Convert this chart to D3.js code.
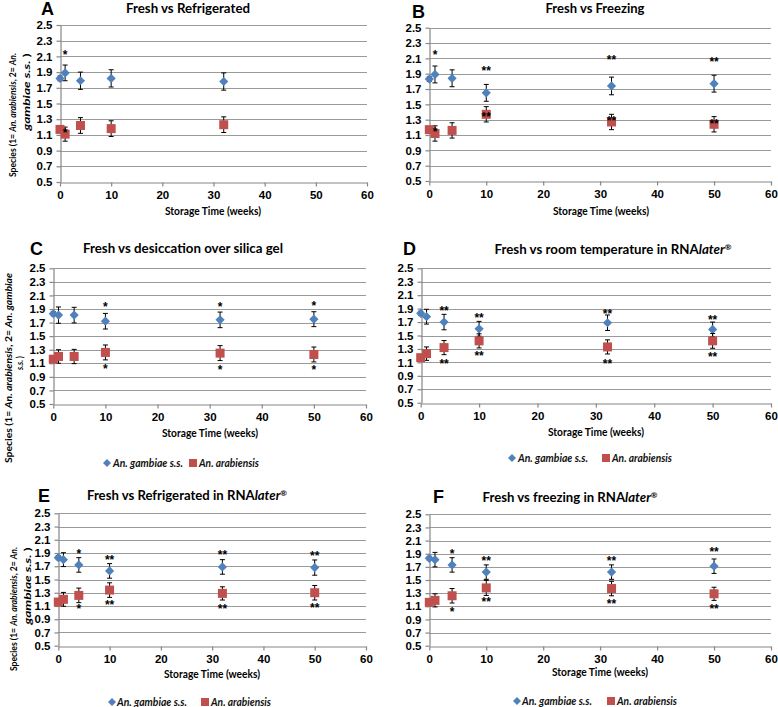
<!DOCTYPE html>
<html><head><meta charset="utf-8">
<script src="https://cdn.jsdelivr.net/npm/d3@7"></script>
<style>body{margin:0;background:#fff;} svg{display:block;}</style>
</head><body><svg id="c" width="778" height="707"></svg>
<script>
// ---------- DATA ----------
const weeksA = [0, 1, 4, 10, 32];
const weeks = [0, 1, 4, 10, 32, 50];
const xTicks = [0, 10, 20, 30, 40, 50, 60];
const yTicks = [0.5, 0.7, 0.9, 1.1, 1.3, 1.5, 1.7, 1.9, 2.1, 2.3, 2.5];
const seriesNames = ["An. gambiae s.s.", "An. arabiensis"];

const gambiaeA = [1.82, 1.89, 1.79, 1.82, 1.78];
const gambiaeErrA = [0.03, 0.10, 0.11, 0.11, 0.11];
const arabiensisA = [1.17, 1.11, 1.22, 1.18, 1.23];
const arabiensisErrA = [0.03, 0.09, 0.10, 0.10, 0.10];
const starsA = [[1, 2.15, "*"], [1, 1.16, "*"]];

const gambiaeB = [1.83, 1.89, 1.84, 1.65, 1.74, 1.77];
const gambiaeErrB = [0.03, 0.11, 0.11, 0.11, 0.115, 0.11];
const arabiensisB = [1.17, 1.12, 1.16, 1.37, 1.27, 1.24];
const arabiensisErrB = [0.03, 0.10, 0.10, 0.10, 0.10, 0.10];
const starsB = [[1, 2.17, "*"], [1, 1.17, "*"], [10, 1.97, "**"], [10, 1.37, "**"],
                [32, 2.11, "**"], [32, 1.31, "**"], [50, 2.08, "**"], [50, 1.27, "**"]];

const gambiaeC = [1.83, 1.81, 1.81, 1.72, 1.74, 1.75];
const gambiaeErrC = [0.03, 0.12, 0.115, 0.115, 0.115, 0.11];
const arabiensisC = [1.16, 1.20, 1.20, 1.26, 1.25, 1.23];
const arabiensisErrC = [0.03, 0.10, 0.105, 0.11, 0.11, 0.11];
const starsC = [[10, 1.97, "*"], [10, 1.055, "*"], [32, 1.97, "*"], [32, 1.04, "*"],
                [50, 1.98, "*"], [50, 1.04, "*"]];

const gambiaeD = [1.83, 1.78, 1.70, 1.60, 1.69, 1.59];
const gambiaeErrD = [0.03, 0.11, 0.115, 0.11, 0.115, 0.11];
const arabiensisD = [1.17, 1.23, 1.32, 1.42, 1.33, 1.42];
const arabiensisErrD = [0.03, 0.10, 0.105, 0.105, 0.105, 0.11];
const starsD = [[4, 1.90, "**"], [4, 1.12, "**"], [10, 1.80, "**"], [10, 1.23, "**"],
                [32, 1.85, "**"], [32, 1.12, "**"], [50, 1.77, "**"], [50, 1.21, "**"]];

const gambiaeE = [1.83, 1.80, 1.72, 1.63, 1.69, 1.68];
const gambiaeErrE = [0.03, 0.105, 0.11, 0.11, 0.11, 0.115];
const arabiensisE = [1.16, 1.20, 1.26, 1.34, 1.29, 1.30];
const arabiensisErrE = [0.03, 0.105, 0.11, 0.11, 0.10, 0.11];
const starsE = [[4, 1.92, "*"], [4, 1.09, "*"], [10, 1.83, "**"], [10, 1.15, "**"],
                [32, 1.91, "**"], [32, 1.09, "**"], [50, 1.90, "**"], [50, 1.10, "**"]];

const gambiaeF = [1.83, 1.81, 1.73, 1.62, 1.62, 1.71];
const gambiaeErrF = [0.03, 0.11, 0.11, 0.11, 0.11, 0.11];
const arabiensisF = [1.16, 1.19, 1.26, 1.38, 1.37, 1.29];
const arabiensisErrF = [0.03, 0.10, 0.11, 0.115, 0.11, 0.10];
const starsF = [[4, 1.94, "*"], [4, 1.05, "*"], [10, 1.83, "**"], [10, 1.20, "**"],
                [32, 1.83, "**"], [32, 1.17, "**"], [50, 1.96, "**"], [50, 1.09, "**"]];

const titles = {
  A: [["Fresh vs Refrigerated", ""]],
  B: [["Fresh vs Freezing", ""]],
  C: [["Fresh vs desiccation over silica gel", ""]],
  D: [["Fresh vs room temperature in RNA", ""], ["later", "i"], ["®", "sup"]],
  E: [["Fresh vs Refrigerated in RNA", ""], ["later", "i"], ["®", "sup"]],
  F: [["Fresh vs freezing in RNA", ""], ["later", "i"], ["®", "sup"]]
};
const xTitle = "Storage Time (weeks)";

// ---------- STYLE ----------
const BLUE = "#4F81BD", RED = "#C0504D", GRID = "#9a9a9a", AXIS = "#868686";
const TICKFONT = "'Liberation Sans', Arial, sans-serif";
const TFONT = "Lato, 'Open Sans', sans-serif";

const svg = d3.select("#c");
svg.append("rect").attr("width", 778).attr("height", 707).attr("fill", "#fff");

const panels = [
  {id: "A", wk: weeksA, g: gambiaeA, ge: gambiaeErrA, a: arabiensisA, ae: arabiensisErrA, st: starsA,
   x0: 60, x1: 367, yT: 25, yB: 182, lx: 41, ly: 15, tx: 188, ty: 12.5, tw: 124, xtx: 213, xty: 215,
   yt: [[12, 115, 124, "Species (1= ", "An. arabiensis", ", 2= ", "An."], [26, 92, 77, "", "gambiae s.s.", " )", ""]], leg: null},
  {id: "B", wk: weeks, g: gambiaeB, ge: gambiaeErrB, a: arabiensisB, ae: arabiensisErrB, st: starsB,
   x0: 429.3, x1: 771, yT: 27.7, yB: 181, lx: 412, ly: 18, tx: 595, ty: 13, tw: 99, xtx: 601, xty: 215,
   yt: null, leg: null},
  {id: "C", wk: weeks, g: gambiaeC, ge: gambiaeErrC, a: arabiensisC, ae: arabiensisErrC, st: starsC,
   x0: 53.3, x1: 366, yT: 268.3, yB: 404, lx: 30, ly: 255, tx: 183, ty: 253, tw: 200, xtx: 210, xty: 437,
   yt: [[8, 368, 190, "Species (1= ", "An. arabiensis", ", 2= ", "An. gambiae"], [19, 363, 14, "", "s.s.", " )", ""]],
   leg: {y: 463, dx: 107, tx1: 113, sx: 193, tx2: 199}},
  {id: "D", wk: weeks, g: gambiaeD, ge: gambiaeErrD, a: arabiensisD, ae: arabiensisErrD, st: starsD,
   x0: 420.7, x1: 771, yT: 268.3, yB: 402.7, lx: 403, ly: 255, tx: 613, ty: 254, tw: 237, xtx: 596, xty: 436,
   yt: null, leg: {y: 458, dx: 512, tx1: 518, sx: 606, tx2: 612}},
  {id: "E", wk: weeks, g: gambiaeE, ge: gambiaeErrE, a: arabiensisE, ae: arabiensisErrE, st: starsE,
   x0: 58.3, x1: 366, yT: 513.3, yB: 645.7, lx: 38, ly: 502, tx: 187, ty: 500, tw: 200, xtx: 212, xty: 678,
   yt: [[13, 609, 124, "Species (1= ", "An. arabiensis", ", 2= ", "An."], [27, 586, 77, "", "gambiae s.s.", " )", ""]],
   leg: {y: 702, dx: 112, tx1: 117, sx: 205, tx2: 211}},
  {id: "F", wk: weeks, g: gambiaeF, ge: gambiaeErrF, a: arabiensisF, ae: arabiensisErrF, st: starsF,
   x0: 429.3, x1: 771, yT: 514.3, yB: 645.7, lx: 433, ly: 503, tx: 570, ty: 502, tw: 175, xtx: 600, xty: 676,
   yt: null, leg: {y: 701, dx: 517, tx1: 522, sx: 611, tx2: 617}}
];

const diamond = r => `M0,${-r}L${r},0L0,${r}L${-r},0Z`;

panels.forEach(p => {
  const g = svg.append("g");
  const x = d3.scaleLinear().domain([0, 60]).range([p.x0, p.x1]);
  const y = d3.scaleLinear().domain([0.5, 2.5]).range([p.yB, p.yT]);

  // gridlines
  g.append("g").selectAll("line").data(yTicks.slice(1)).join("line")
    .attr("x1", p.x0).attr("x2", p.x1)
    .attr("y1", d => Math.round(y(d)) + 0.5).attr("y2", d => Math.round(y(d)) + 0.5)
    .attr("stroke", GRID).attr("stroke-width", 1.2);

  // axes
  const ya = g.append("g").attr("transform", `translate(${Math.round(p.x0) + 0.5},0)`)
    .call(d3.axisLeft(y).tickValues(yTicks).tickSize(4).tickSizeOuter(0).tickPadding(4).tickFormat(d3.format(".1f")));
  const xa = g.append("g").attr("transform", `translate(0,${Math.round(p.yB) + 0.5})`)
    .call(d3.axisBottom(x).tickValues(xTicks).tickSize(4).tickSizeOuter(0).tickPadding(4));
  [ya, xa].forEach(a => {
    a.selectAll("path,line").attr("stroke", AXIS).attr("stroke-width", 1.2);
    a.selectAll("text").attr("font-family", TICKFONT).attr("font-weight", "bold")
      .attr("font-size", 11.5).attr("fill", "#000");
  });

  // error bars + markers
  const series = [
    {vals: p.g, err: p.ge, color: BLUE, shape: "d"},
    {vals: p.a, err: p.ae, color: RED, shape: "s"}
  ];
  series.forEach(s => {
    const data = p.wk.map((w, i) => ({w, v: s.vals[i], e: s.err[i]}));
    const eg = g.append("g").attr("stroke", "#000").attr("stroke-width", 1);
    eg.selectAll(".v").data(data).join("line")
      .attr("x1", d => x(d.w)).attr("x2", d => x(d.w))
      .attr("y1", d => y(d.v - d.e)).attr("y2", d => y(d.v + d.e));
    eg.selectAll(".t").data(data.flatMap(d => [[d.w, d.v + d.e], [d.w, d.v - d.e]])).join("line")
      .attr("x1", d => x(d[0]) - 2.5).attr("x2", d => x(d[0]) + 2.5)
      .attr("y1", d => y(d[1])).attr("y2", d => y(d[1]));
    if (s.shape === "d") {
      g.append("g").selectAll("path").data(data).join("path")
        .attr("d", diamond(4.6)).attr("transform", d => `translate(${x(d.w)},${y(d.v)})`)
        .attr("fill", s.color);
    } else {
      g.append("g").selectAll("rect").data(data).join("rect")
        .attr("x", d => x(d.w) - 4.5).attr("y", d => y(d.v) - 4.5)
        .attr("width", 9).attr("height", 9).attr("fill", s.color);
    }
  });

  // significance stars
  g.append("g").selectAll("text").data(p.st).join("text")
    .attr("x", d => x(d[0])).attr("y", d => y(d[1]) + 6.5)
    .attr("text-anchor", "middle").attr("font-family", TICKFONT).attr("font-weight", "bold")
    .attr("font-size", 12).attr("fill", "#000").text(d => d[2]);

  // panel letter
  g.append("text").attr("x", p.lx).attr("y", p.ly).attr("font-family", TICKFONT)
    .attr("font-weight", "bold").attr("font-size", 18).text(p.id);

  // title
  const t = g.append("text").attr("x", p.tx).attr("y", p.ty).attr("text-anchor", "middle")
    .attr("font-family", TFONT).attr("font-weight", "bold").attr("font-size", 13)
    .attr("textLength", p.tw).attr("lengthAdjust", "spacingAndGlyphs");
  titles[p.id].forEach(([str, st]) => {
    const ts = t.append("tspan").text(str);
    if (st === "i") ts.attr("font-style", "italic");
    if (st === "sup") ts.attr("font-size", 8).attr("dy", -4);
  });

  // x title
  g.append("text").attr("x", p.xtx).attr("y", p.xty).attr("text-anchor", "middle")
    .attr("font-family", TFONT).attr("font-weight", "bold").attr("font-size", 10.5)
    .attr("textLength", 96).attr("lengthAdjust", "spacingAndGlyphs").text(xTitle);

  // y title
  if (p.yt) {
    p.yt.forEach(([lx, cy, len, a1, it1, a2, it2]) => {
      const yt = g.append("text").attr("transform", `translate(${lx},${cy}) rotate(-90)`)
        .attr("text-anchor", "middle").attr("dominant-baseline", "central")
        .attr("font-family", TFONT).attr("font-weight", "bold").attr("font-size", 10)
        .attr("textLength", len).attr("lengthAdjust", "spacingAndGlyphs");
      if (a1) yt.append("tspan").text(a1);
      if (it1) yt.append("tspan").attr("font-style", "italic").text(it1);
      if (a2) yt.append("tspan").text(a2);
      if (it2) yt.append("tspan").attr("font-style", "italic").text(it2);
    });
  }

  // legend
  if (p.leg) {
    const L = p.leg;
    g.append("path").attr("d", diamond(4)).attr("transform", `translate(${L.dx},${L.y})`).attr("fill", BLUE);
    g.append("text").attr("x", L.tx1).attr("y", L.y + 3.5).attr("font-family", TFONT)
      .attr("font-style", "italic").attr("font-weight", "bold").attr("font-size", 10.5).attr("textLength", 70)
      .attr("lengthAdjust", "spacingAndGlyphs").attr("fill", "#111").text(seriesNames[0]);
    g.append("rect").attr("x", L.sx - 4).attr("y", L.y - 4).attr("width", 8).attr("height", 8).attr("fill", RED);
    g.append("text").attr("x", L.tx2).attr("y", L.y + 3.5).attr("font-family", TFONT)
      .attr("font-style", "italic").attr("font-weight", "bold").attr("font-size", 10.5).attr("textLength", 60)
      .attr("lengthAdjust", "spacingAndGlyphs").attr("fill", "#111").text(seriesNames[1]);
  }
});
</script>
</body></html>
